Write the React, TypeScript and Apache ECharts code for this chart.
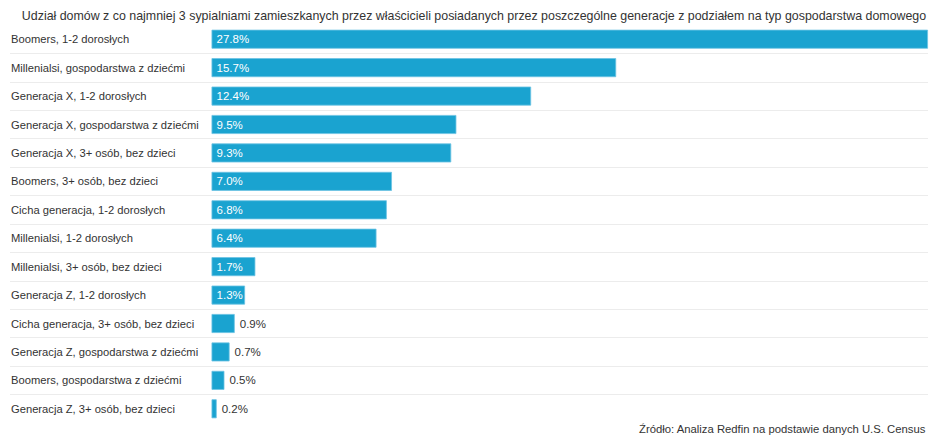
import { useEffect, useRef } from 'react'
import * as echarts from 'echarts'

// 类别（从上到下）
const categories = [
  'Boomers, 1-2 dorosłych',
  'Millenialsi, gospodarstwa z dziećmi',
  'Generacja X, 1-2 dorosłych',
  'Generacja X, gospodarstwa z dziećmi',
  'Generacja X, 3+ osób, bez dzieci',
  'Boomers, 3+ osób, bez dzieci',
  'Cicha generacja, 1-2 dorosłych',
  'Millenialsi, 1-2 dorosłych',
  'Millenialsi, 3+ osób, bez dzieci',
  'Generacja Z, 1-2 dorosłych',
  'Cicha generacja, 3+ osób, bez dzieci',
  'Generacja Z, gospodarstwa z dziećmi',
  'Boomers, gospodarstwa z dziećmi',
  'Generacja Z, 3+ osób, bez dzieci',
]

// 百分比数值
const shares = [27.8, 15.7, 12.4, 9.5, 9.3, 7.0, 6.8, 6.4, 1.7, 1.3, 0.9, 0.7, 0.5, 0.2]

const titleText =
  'Udział domów z co najmniej 3 sypialniami zamieszkanych przez właścicieli posiadanych przez poszczególne generacje z podziałem na typ gospodarstwa domowego'
const sourceText = 'Źródło: Analiza Redfin na podstawie danych U.S. Census'

const FONT = '"Liberation Sans", Arial, Helvetica, sans-serif'
const BAR = '#1aa3d0'

export default function App() {
  const ref = useRef<HTMLDivElement>(null)

  useEffect(() => {
    document.body.style.margin = '0'
    if (!ref.current) return
    const chart = echarts.init(ref.current, undefined, { renderer: 'svg' })

    // 行分隔线：首尾两条边界线透明
    const sepColors = Array.from({ length: categories.length + 1 }, (_, i) =>
      i === 0 || i === categories.length ? 'rgba(0,0,0,0)' : '#ececec'
    )

    const data = shares.map(v => ({
      value: v,
      label:
        v >= 1
          ? { position: 'insideLeft', color: '#fff', distance: 5 }
          : { position: 'right', color: '#333', distance: 5 },
    }))

    chart.setOption({
      animation: false,
      textStyle: { fontFamily: FONT },
      title: [
        {
          text: titleText,
          left: 'center',
          top: 5,
          textStyle: { fontSize: 12.4, fontWeight: 'normal', color: '#333', fontFamily: FONT },
        },
        {
          text: sourceText,
          right: 17,
          top: 418,
          textStyle: { fontSize: 11.3, fontWeight: 'normal', color: '#333', fontFamily: FONT },
        },
      ],
      grid: { left: 10, right: 20, top: 25, bottom: 22, containLabel: false },
      xAxis: {
        type: 'value',
        min: -7.82,
        max: 27.8,
        show: false,
      },
      yAxis: {
        type: 'category',
        data: categories,
        inverse: true,
        axisLine: { show: false },
        axisTick: { show: false },
        axisLabel: {
          inside: true,
          margin: 1,
          fontSize: 11.2,
          color: '#333',
          fontFamily: FONT,
        },
        splitLine: { show: true, lineStyle: { color: sepColors, width: 1 } },
        z: 10,
      },
      series: [
        {
          type: 'bar',
          data,
          barWidth: 19,
          itemStyle: { color: BAR, borderColor: '#6cc3e3', borderWidth: 0.8 },
          label: {
            show: true,
            formatter: (p: any) => p.value.toFixed(1) + '%',
            fontSize: 11.5,
            fontFamily: FONT,
          },
        },
      ],
    })

    return () => chart.dispose()
  }, [])

  return <div ref={ref} style={{ width: 948, height: 445 }} />
}
